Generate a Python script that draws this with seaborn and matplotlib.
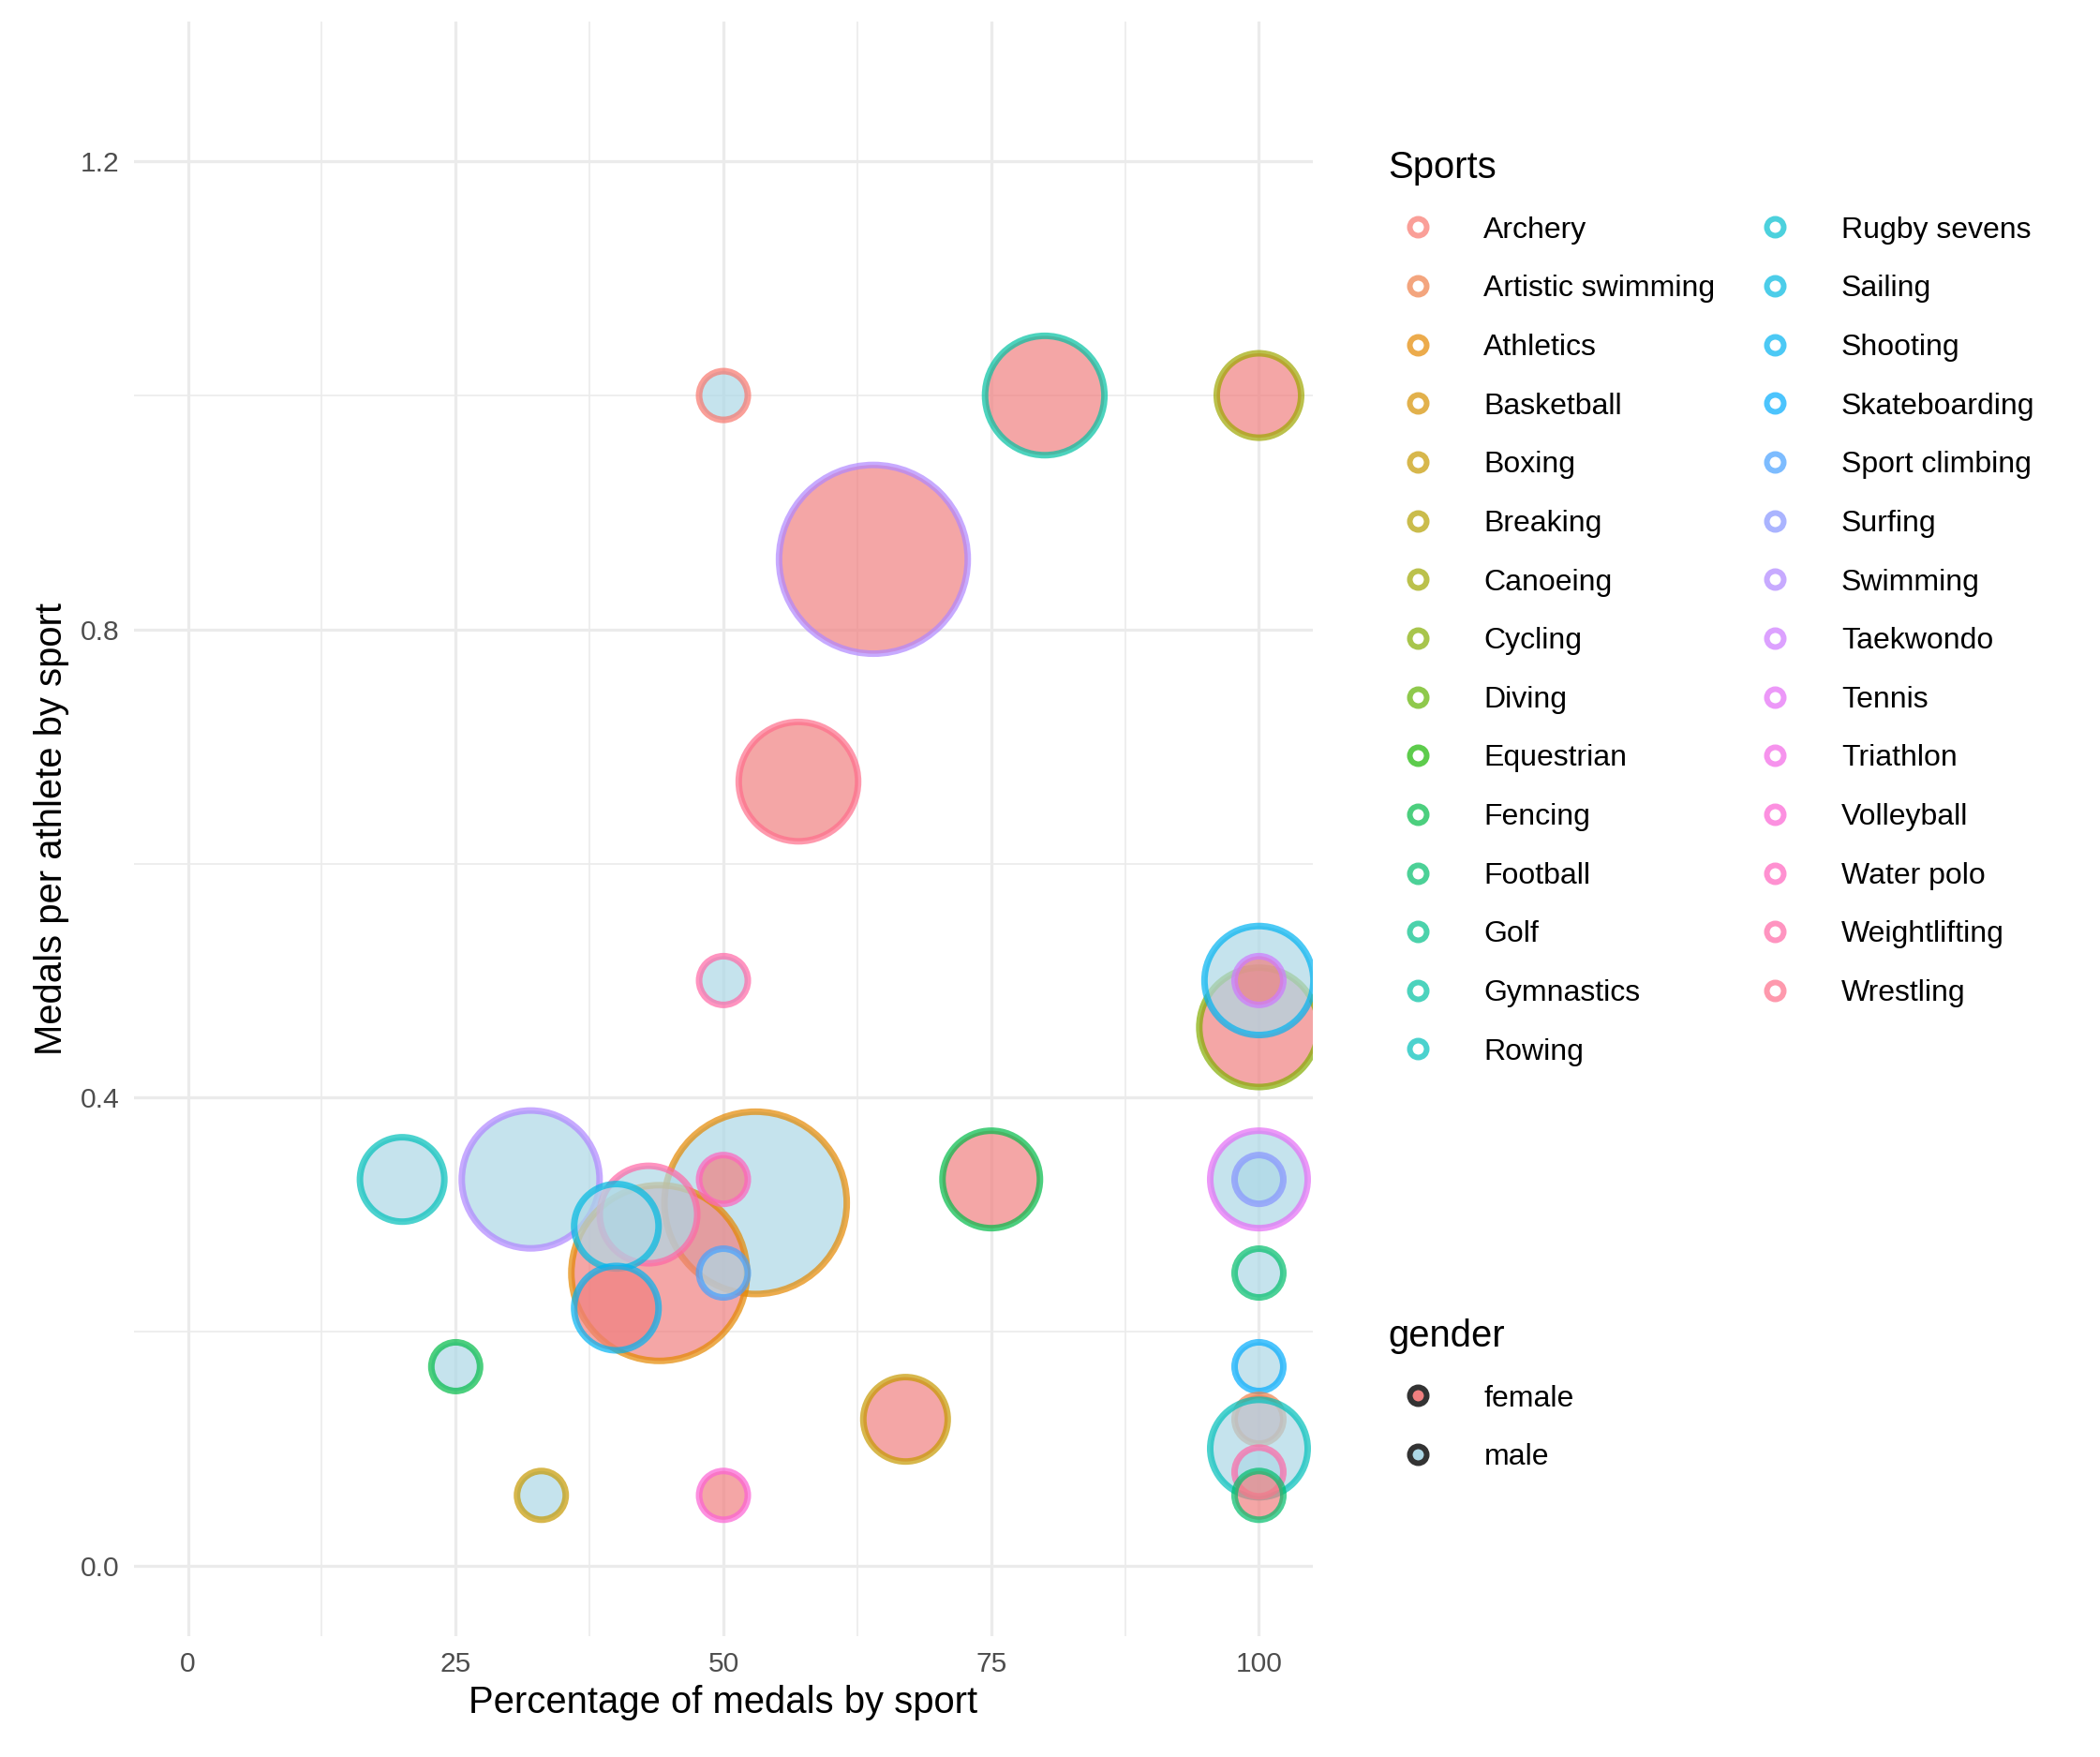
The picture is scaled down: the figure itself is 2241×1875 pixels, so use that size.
import numpy as np
import pandas as pd
import matplotlib
matplotlib.use("Agg")
import matplotlib.pyplot as plt
import seaborn as sns
from matplotlib.lines import Line2D
from matplotlib.ticker import MultipleLocator

plt.rcParams['font.family'] = ['Liberation Sans', 'DejaVu Sans']

sports_all = ["Archery","Artistic swimming","Athletics","Basketball","Boxing","Breaking","Canoeing",
              "Cycling","Diving","Equestrian","Fencing","Football","Golf","Gymnastics","Rowing",
              "Rugby sevens","Sailing","Shooting","Skateboarding","Sport climbing","Surfing","Swimming",
              "Taekwondo","Tennis","Triathlon","Volleyball","Water polo","Weightlifting","Wrestling"]

x_pct = [50, 80, 100, 64, 57, 50, 100, 100, 20, 32, 53, 44, 43, 40, 40, 50, 50, 75, 100, 100,
         100, 25, 100, 67, 100, 100, 100, 100, 33, 50, 100]
y_mpa = [1.0, 1.0, 1.0, 0.86, 0.67, 0.5, 0.46, 0.5, 0.33, 0.33, 0.31, 0.25, 0.30, 0.29, 0.22, 0.33,
         0.25, 0.33, 0.33, 0.33, 0.25, 0.17, 0.17, 0.125, 0.125, 0.1, 0.08, 0.06, 0.06, 0.06, 0.5]
sport = ["Archery","Gymnastics","Canoeing","Swimming","Wrestling","Weightlifting","Cycling","Shooting",
         "Rowing","Swimming","Athletics","Athletics","Weightlifting","Sailing","Shooting","Water polo",
         "Sport climbing","Fencing","Tennis","Surfing","Football","Fencing","Skateboarding","Boxing",
         "Artistic swimming","Rowing","Weightlifting","Football","Boxing","Volleyball","Taekwondo"]
gender = ["male","female","female","female","female","male","female","male","male","male","male",
          "female","male","male","female","female","male","female","male","male","male","male","male",
          "female","female","male","male","female","male","female","female"]
medals = [1, 6, 3, 15, 6, 1, 6, 5, 3, 8, 14, 13, 4, 3, 3, 1, 1, 4, 4, 1, 1, 1, 1, 3, 1, 4, 1, 1, 1, 1, 1]

df = pd.DataFrame({"x": x_pct, "y": y_mpa, "sport": sport, "gender": gender, "medals": medals})

def hcl_hex(h, c=100, l=65):
    hr = np.deg2rad(h)
    u, v = c*np.cos(hr), c*np.sin(hr)
    Y = ((l+16)/116)**3 if l > 8 else l/903.3
    un, vn = 0.19783, 0.46833
    up = u/(13*l) + un; vp = v/(13*l) + vn
    X = Y*9*up/(4*vp); Z = Y*(12-3*up-20*vp)/(4*vp)
    M = np.array([[3.2406,-1.5372,-0.4986],[-0.9689,1.8758,0.0415],[0.0557,-0.2040,1.0570]])
    rgb = M @ np.array([X, Y, Z])
    rgb = np.where(rgb <= 0.0031308, 12.92*rgb, 1.055*np.clip(rgb,0,None)**(1/2.4)-0.055)
    return tuple(np.clip(rgb, 0, 1))

n = len(sports_all)
hues = np.linspace(15, 375, n+1)[:-1]
sport_pal = {s: hcl_hex(h) for s, h in zip(sports_all, hues)}
fill_pal = {"female": "#F08080", "male": "#ADD8E6"}

fig = plt.figure(figsize=(2241/144, 1875/144), dpi=144)
ax = fig.add_axes([0.064, 0.069, 0.561, 0.919])
sns.scatterplot(data=df, x="x", y="y", hue="gender", palette=fill_pal, size="medals",
                sizes=(676, 676*15), size_norm=(1, 15), alpha=0.7, linewidth=3.5, legend=False, ax=ax)
coll = ax.collections[0]
ec = [sport_pal[s] + (0.7,) for s in df["sport"]]
coll.set_edgecolor(ec)

ax.set_xlim(-5, 105); ax.set_ylim(-0.06, 1.32)
ax.set_xticks([0, 25, 50, 75, 100]); ax.set_yticks([0.0, 0.4, 0.8, 1.2])
ax.xaxis.set_minor_locator(MultipleLocator(12.5)); ax.yaxis.set_minor_locator(MultipleLocator(0.2))
ax.grid(True, which="major", color="#EBEBEB", lw=1.6)
ax.grid(True, which="minor", color="#EBEBEB", lw=0.8)
ax.set_axisbelow(True)
for s in ax.spines.values(): s.set_visible(False)
ax.tick_params(which="both", length=0, labelsize=15, labelcolor="#4D4D4D", pad=8)
ax.set_xlabel("Percentage of medals by sport", fontsize=20, labelpad=4)
ax.set_ylabel("Medals per athlete by sport", fontsize=20, labelpad=6)

h1 = [Line2D([], [], marker="o", ls="", markersize=9, markerfacecolor="white", alpha=0.7,
             markeredgecolor=sport_pal[s], markeredgewidth=3, label=s) for s in sports_all]
fig.legend(handles=h1, title="Sports", loc="upper left", bbox_to_anchor=(0.648, 0.93),
           ncol=2, frameon=False, fontsize=16, title_fontsize=20, alignment="left",
           labelspacing=1.02, columnspacing=1.0, handletextpad=1.2)
h2 = [Line2D([], [], marker="o", ls="", markersize=9, markerfacecolor=fill_pal[g],
             markeredgecolor="#333333", markeredgewidth=3, label=g) for g in ["female", "male"]]
fig.legend(handles=h2, title="gender", loc="upper left", bbox_to_anchor=(0.648, 0.265),
           frameon=False, fontsize=16, title_fontsize=20, alignment="left",
           labelspacing=1.02, handletextpad=1.2)
fig.savefig("out.png", dpi=144, facecolor="white")
